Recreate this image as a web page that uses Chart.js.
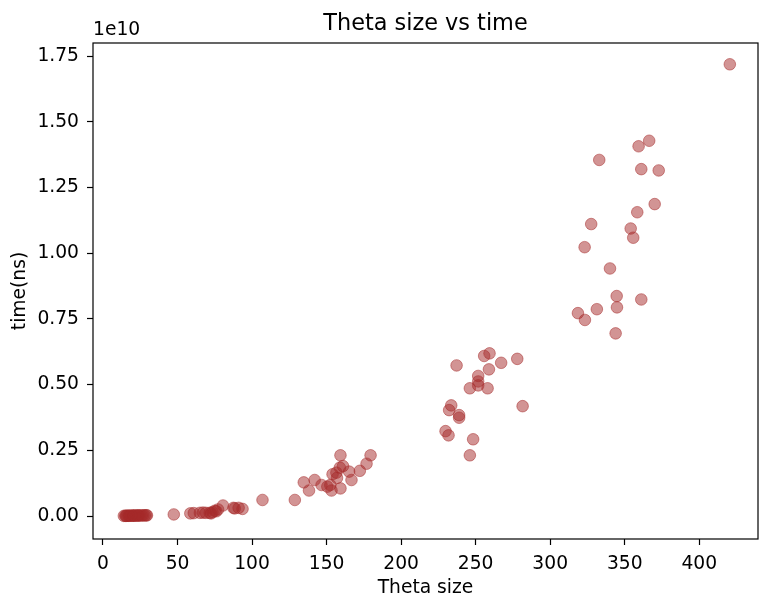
<!DOCTYPE html>
<html><head><meta charset="utf-8">
<script src="https://cdn.jsdelivr.net/npm/chart.js@4/dist/chart.umd.min.js"></script>
<style>html,body{margin:0;padding:0;background:#fff}</style>
</head><body>
<canvas id="c" width="759" height="599"></canvas>
<script>
// Theta size (x) and measured time in ns (y)
const thetaSize = [
  14, 15, 15.5, 16, 17, 17.5, 18, 19, 20, 20.5, 21, 22, 23, 23.5, 24, 25, 26, 27, 28, 29, 29.5,
  47.5, 58.6, 60.9, 65, 67.1, 69, 71.6, 72.5, 73.5, 75, 76, 77.2, 80.5, 87.5, 88.4, 91, 93.6,
  107, 128.7, 134.7, 138.2, 142, 146.6, 150.5, 152.5, 153.3, 154, 156.6, 157, 158.9, 159.3, 159.3,
  161, 165.1, 166.7, 172.3, 176.8, 179.5,
  229.8, 231.8, 232.2, 233.6, 237.2, 238.9, 238.9, 246.1, 246.1, 248.3, 251.7, 251.7, 251.7,
  255.7, 258, 258.9, 259.3, 267.1, 277.9, 281.5,
  318.6, 323.3, 331.3, 343.9, 344.8, 344.6, 361.1, 340.1, 323.1, 327.5, 354, 355.7, 358.4,
  370.1, 361.1, 372.8, 332.9, 359.3, 366.4, 420.5
];
const timeNs = [
  0.0005e10, 0.0008e10, 0.0006e10, 0.001e10, 0.0009e10, 0.0012e10, 0.0011e10, 0.0014e10, 0.0013e10, 0.0016e10,
  0.0015e10, 0.0018e10, 0.0017e10, 0.002e10, 0.0019e10, 0.0021e10, 0.0022e10, 0.0024e10, 0.0023e10, 0.0026e10, 0.0025e10,
  0.006e10, 0.010e10, 0.011e10, 0.012e10, 0.013e10, 0.012e10, 0.012e10, 0.010e10, 0.015e10, 0.020e10, 0.018e10,
  0.025e10, 0.040e10, 0.031e10, 0.029e10, 0.031e10, 0.027e10,
  0.061e10, 0.061e10, 0.128e10, 0.097e10, 0.137e10, 0.118e10, 0.112e10, 0.118e10, 0.097e10, 0.159e10, 0.165e10,
  0.145e10, 0.184e10, 0.105e10, 0.231e10,
  0.190e10, 0.169e10, 0.137e10, 0.172e10, 0.199e10, 0.231e10,
  0.323e10, 0.307e10, 0.403e10, 0.421e10, 0.573e10, 0.384e10, 0.374e10, 0.486e10, 0.231e10, 0.292e10, 0.533e10,
  0.512e10, 0.497e10, 0.609e10, 0.486e10, 0.558e10, 0.619e10, 0.583e10, 0.598e10, 0.418e10,
  0.772e10, 0.746e10, 0.787e10, 0.695e10, 0.794e10, 0.837e10, 0.824e10, 0.942e10, 1.023e10, 1.111e10, 1.094e10,
  1.059e10, 1.156e10, 1.187e10, 1.320e10, 1.315e10, 1.355e10, 1.407e10, 1.428e10, 1.719e10
];
const xTicks = [0, 50, 100, 150, 200, 250, 300, 350, 400];
const yTicks = [0, 0.25e10, 0.5e10, 0.75e10, 1.0e10, 1.25e10, 1.5e10, 1.75e10];
const chartTitle = 'Theta size vs time';
const xLabel = 'Theta size';
const yLabel = 'time(ns)';
const offsetLabel = '1e10';

const FONT = 'DejaVu Sans';
const TICK_SIZE = 18.7;
const TITLE_SIZE = 22.4;

const framePlugin = {
  id: 'frame',
  afterDraw(chart) {
    const {ctx, chartArea: a} = chart;
    ctx.save();
    ctx.strokeStyle = '#000';
    ctx.lineWidth = 1.2;
    ctx.strokeRect(a.left, a.top, a.right - a.left, a.bottom - a.top);
    ctx.fillStyle = '#000';
    ctx.font = TITLE_SIZE + 'px "' + FONT + '"';
    ctx.textAlign = 'center';
    ctx.textBaseline = 'alphabetic';
    ctx.fillText(chartTitle, (a.left + a.right) / 2, 30);
    ctx.font = TICK_SIZE + 'px "' + FONT + '"';
    ctx.textAlign = 'left';
    ctx.fillText(offsetLabel, a.left, 35);
    ctx.restore();
  }
};

new Chart(document.getElementById('c'), {
  type: 'scatter',
  data: {
    datasets: [{
      data: thetaSize.map((x, i) => ({x: x, y: timeNs[i]})),
      backgroundColor: 'rgba(165,42,42,0.5)',
      borderColor: 'rgba(165,42,42,0.5)',
      borderWidth: 1,
      pointRadius: 5.8,
      pointHoverRadius: 5.8
    }]
  },
  options: {
    responsive: false,
    animation: false,
    events: [],
    layout: {autoPadding: false, padding: {top: 43, right: 1, left: 0, bottom: 0}},
    plugins: {legend: {display: false}, tooltip: {enabled: false}, title: {display: false}},
    scales: {
      x: {
        type: 'linear',
        min: -6.7, max: 439.4,
        afterBuildTicks: s => { s.ticks = xTicks.map(v => ({value: v})); },
        afterFit: s => { s.height = 60; },
        grid: {drawOnChartArea: false, tickLength: 6, tickColor: '#000', tickWidth: 1.2},
        border: {display: false},
        ticks: {color: '#000', font: {family: FONT, size: TICK_SIZE}, padding: 8, maxRotation: 0, autoSkip: false},
        title: {display: true, text: xLabel, color: '#000', font: {family: FONT, size: TICK_SIZE}, padding: {top: 0, bottom: 0}}
      },
      y: {
        type: 'linear',
        min: -0.0875e10, max: 1.8e10,
        afterBuildTicks: s => { s.ticks = yTicks.map(v => ({value: v})); },
        afterFit: s => { s.width = 93; },
        grid: {drawOnChartArea: false, tickLength: 6, tickColor: '#000', tickWidth: 1.2},
        border: {display: false},
        ticks: {color: '#000', font: {family: FONT, size: TICK_SIZE}, padding: 8, autoSkip: false,
          callback: v => (v / 1e10).toFixed(2)},
        title: {display: true, text: yLabel, color: '#000', font: {family: FONT, size: TICK_SIZE}, padding: {top: 8.5, bottom: 0}}
      }
    }
  },
  plugins: [framePlugin]
});
</script>
</body></html>
